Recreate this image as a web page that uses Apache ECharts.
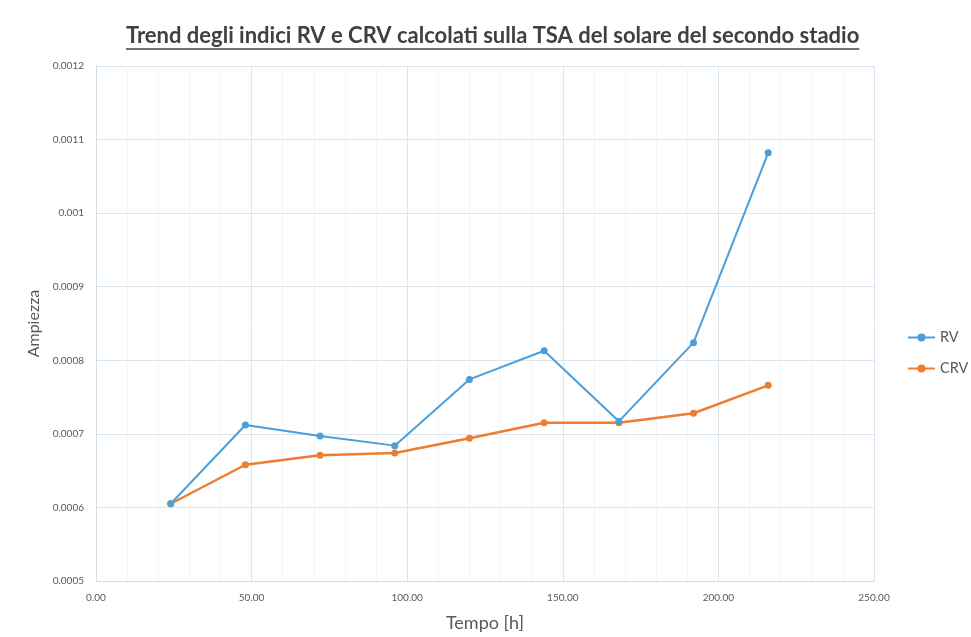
<!DOCTYPE html>
<html>
<head>
<meta charset="utf-8">
<script src="https://cdn.jsdelivr.net/npm/echarts@6/dist/echarts.min.js"></script>
<style>
  html, body { margin: 0; padding: 0; background: #ffffff; }
  #chart { width: 971px; height: 637px; }
</style>
</head>
<body>
<div id="chart"></div>
<script>
// Sampling times [h]
const tempo = [24, 48, 72, 96, 120, 144, 168, 192, 216];
// RV index amplitude
const rv = [0.000605, 0.000712, 0.000697, 0.000684, 0.000774, 0.000813, 0.000717, 0.000824, 0.001082];
// CRV index amplitude
const crv = [0.000605, 0.000658, 0.000671, 0.000674, 0.000694, 0.000715, 0.000715, 0.000728, 0.000766];

const titleText = 'Trend degli indici RV e CRV calcolati sulla TSA del solare del secondo stadio';
const font = 'Lato, "Open Sans", sans-serif';
const titleSize = 22;
const titleLeft = 126;

const chart = echarts.init(document.getElementById('chart'));

function pairs(xs, ys) {
  return xs.map((x, i) => [x, ys[i]]);
}

chart.setOption({
  backgroundColor: '#ffffff',
  animation: false,
  title: {
    text: titleText,
    left: titleLeft,
    top: 25,
    padding: 0,
    textStyle: { fontFamily: font, fontSize: titleSize, fontWeight: 'bold', color: '#404040' }
  },
  legend: {
    orient: 'vertical',
    left: 907,
    top: 330,
    padding: 0,
    itemGap: 16,
    itemWidth: 27,
    itemHeight: 10,
    textStyle: { fontFamily: font, fontSize: 14.5, color: '#595959' },
    data: ['RV', 'CRV']
  },
  grid: { left: 96, right: 97, top: 66, bottom: 56, containLabel: false },
  xAxis: {
    type: 'value',
    name: 'Tempo [h]',
    nameLocation: 'middle',
    nameGap: 33,
    nameTextStyle: { fontFamily: font, fontSize: 18, color: '#595959' },
    min: 0, max: 250, interval: 50,
    axisLine: { show: true, lineStyle: { color: '#d0dce8' } },
    axisTick: { show: false },
    axisLabel: {
      fontFamily: font, fontSize: 10, color: '#595959', margin: 12,
      formatter: v => v.toFixed(2)
    },
    splitLine: { show: true, lineStyle: { color: '#dce6f0', width: 1 } },
    minorTick: { show: false, splitNumber: 5 },
    minorSplitLine: { show: true, lineStyle: { color: '#f1f4f8', width: 1 } }
  },
  yAxis: {
    type: 'value',
    name: 'Ampiezza',
    nameLocation: 'middle',
    nameGap: 45,
    nameRotate: 90,
    nameTextStyle: { fontFamily: font, fontSize: 16, color: '#595959' },
    min: 0.0005, max: 0.0012, interval: 0.0001,
    axisLine: { show: true, lineStyle: { color: '#d0dce8' } },
    axisTick: { show: false },
    axisLabel: {
      fontFamily: font, fontSize: 10, color: '#595959', margin: 12,
      formatter: v => String(parseFloat(v.toFixed(4)))
    },
    splitLine: { show: true, lineStyle: { color: '#dce6f0', width: 1 } }
  },
  series: [
    {
      name: 'RV',
      type: 'line',
      data: pairs(tempo, rv),
      symbol: 'circle',
      symbolSize: 7,
      itemStyle: { color: '#4a9fd9' },
      lineStyle: { color: '#4a9fd9', width: 2 },
      z: 3
    },
    {
      name: 'CRV',
      type: 'line',
      data: pairs(tempo, crv),
      symbol: 'circle',
      symbolSize: 7,
      itemStyle: { color: '#ed7d31' },
      lineStyle: { color: '#ed7d31', width: 2.5 },
      z: 2
    }
  ]
});

// Underline beneath the title, sized to the rendered title text
const titleWidth = echarts.format.getTextRect
  ? echarts.format.getTextRect(titleText, 'bold ' + titleSize + 'px ' + font).width
  : 740;
chart.setOption({
  graphic: [{
    type: 'line',
    shape: { x1: titleLeft, y1: 49, x2: titleLeft + titleWidth, y2: 49 },
    style: { stroke: '#404040', lineWidth: 1.5 }
  }]
});
</script>
</body>
</html>
